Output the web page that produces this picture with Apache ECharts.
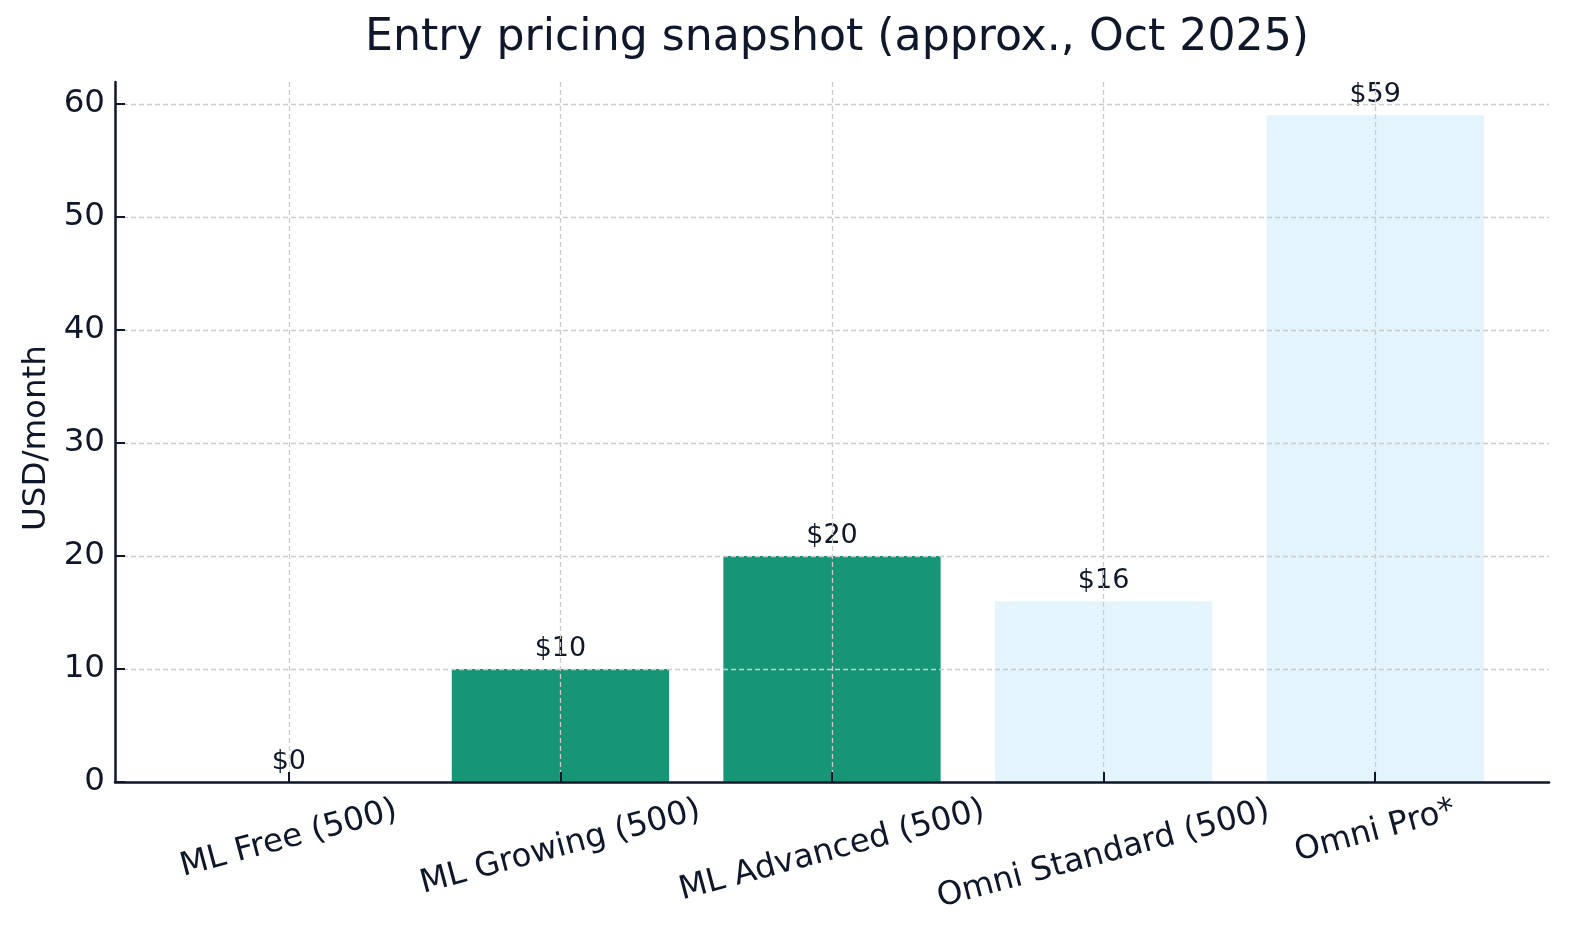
<!DOCTYPE html>
<html>
<head>
<meta charset="utf-8">
<script src="https://cdn.jsdelivr.net/npm/echarts@6/dist/echarts.min.js"></script>
<style>
  html, body { margin: 0; padding: 0; background: #ffffff; overflow: hidden; }
  #chart { width: 1580px; height: 941px; }
</style>
</head>
<body>
<div id="chart"></div>
<script>
// ---- data ----
const categories = ['ML Free (500)', 'ML Growing (500)', 'ML Advanced (500)', 'Omni Standard (500)', 'Omni Pro*'];
const groups = ['ML', 'ML', 'ML', 'Omni', 'Omni'];
const prices = [0, 10, 20, 16, 59];
const yTicks = [0, 10, 20, 30, 40, 50, 60];
const titleText = 'Entry pricing snapshot (approx., Oct 2025)';
const yAxisTitle = 'USD/month';

// ---- style ----
const TEXT = '#0f172a';
const FONT = '"DejaVu Sans", "Liberation Sans", sans-serif';
const groupColors = { ML: '#169676', Omni: '#e3f4fc' };
const GRID = { left: 115, right: 31, top: 82, bottom: 159 };
const X_MIN = -0.64, X_MAX = categories.length - 1 + 0.64;
const Y_MAX = Math.max(...prices) * 1.05;
const TICK_FS = 32.5;
const ROT = 15;

const plotW = 1580 - GRID.left - GRID.right;
const barW = 0.8 * plotW / (X_MAX - X_MIN);

// measure label widths to emulate rotated-bbox placement
const cv = document.createElement('canvas').getContext('2d');
cv.font = TICK_FS + 'px ' + FONT;
const rad = ROT * Math.PI / 180;
const rich = {};
categories.forEach((c, i) => {
  const w = cv.measureText(c).width;
  const p = w / 4;
  const r = p * Math.tan(rad);
  rich['l' + i] = { fontSize: TICK_FS, fontFamily: FONT, color: TEXT, padding: [p, r, 0, 0] };
});

const chart = echarts.init(document.getElementById('chart'), null, { renderer: 'canvas' });
const gridLine = { show: true, lineStyle: { color: '#cbcbcb', width: 1.3, type: [5, 3] } };
const axisLine = { show: true, onZero: false, lineStyle: { color: TEXT, width: 2.5 } };
const axisTick = { show: true, inside: true, length: 10, lineStyle: { color: TEXT, width: 2 } };

chart.setOption({
  backgroundColor: '#ffffff',
  animation: false,
  title: {
    text: titleText,
    left: GRID.left + plotW / 2,
    textAlign: 'center',
    top: 12,
    textStyle: { fontFamily: FONT, fontSize: 44.2, fontWeight: 'normal', color: TEXT }
  },
  grid: Object.assign({ outerBoundsMode: 'none', containLabel: false }, GRID),
  xAxis: {
    type: 'value',
    min: X_MIN,
    max: X_MAX,
    z: 3,
    axisLine: axisLine,
    axisTick: Object.assign({ customValues: categories.map((c, i) => i) }, axisTick),
    splitLine: gridLine,
    axisLabel: {
      customValues: categories.map((c, i) => i),
      rotate: ROT,
      align: 'center',
      verticalAlign: 'middle',
      margin: 28,
      fontSize: TICK_FS,
      fontFamily: FONT,
      color: TEXT,
      rich: rich,
      formatter: v => {
        const i = Math.round(v);
        return '{l' + i + '|' + categories[i] + '}';
      }
    }
  },
  yAxis: {
    type: 'value',
    min: 0,
    max: Y_MAX,
    z: 3,
    name: yAxisTitle,
    nameLocation: 'middle',
    nameGap: 60,
    nameTextStyle: { fontFamily: FONT, fontSize: TICK_FS, color: TEXT, padding: [0, 12, 0, 0] },
    axisLine: axisLine,
    axisTick: Object.assign({ customValues: yTicks }, axisTick),
    splitLine: gridLine,
    axisLabel: {
      customValues: yTicks,
      margin: 10,
      fontSize: TICK_FS,
      fontFamily: FONT,
      color: TEXT
    }
  },
  series: [{
    type: 'bar',
    barWidth: barW,
    data: prices.map((v, i) => ({
      value: [i, v],
      itemStyle: { color: groupColors[groups[i]] }
    })),
    label: {
      show: true,
      position: 'top',
      distance: 7,
      fontFamily: FONT,
      fontSize: 27,
      color: TEXT,
      formatter: p => '$' + p.value[1]
    }
  }]
});
</script>
</body>
</html>
